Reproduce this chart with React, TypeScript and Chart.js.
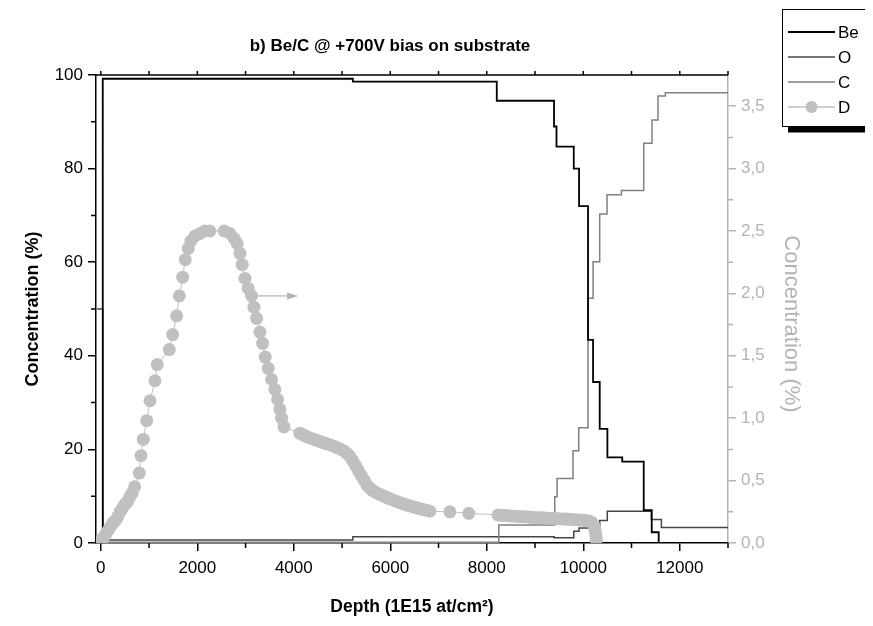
import React, { useEffect, useRef } from 'react';
import { Chart, registerables } from 'chart.js';

Chart.register(...registerables);

const TITLE = 'b) Be/C @ +700V bias on substrate';
const X_TITLE = 'Depth (1E15 at/cm²)';
const Y_TITLE = 'Concentration (%)';
const Y2_TITLE = 'Concentration (%)';

const X_TICKS = [0, 2000, 4000, 6000, 8000, 10000, 12000];
const X_MINOR = [1000, 3000, 5000, 7000, 9000, 11000, 13000];
const Y_TICKS = [0, 20, 40, 60, 80, 100];
const Y_MINOR = [10, 30, 50, 70, 90];
const Y2_TICKS = [0, 0.5, 1, 1.5, 2, 2.5, 3, 3.5];
const Y2_MINOR = [0.25, 0.75, 1.25, 1.75, 2.25, 2.75, 3.25];

const SERIES = ['Be', 'O', 'C', 'D'];

// Step profiles: depth where each level starts, and that level (%)
const BE_DEPTH = [0, 40, 5224, 8207, 9394, 9445, 9803, 9913, 10099, 10203, 10341, 10500, 10808, 11253, 11419, 11563, 13000];
const BE_CONC = [0, 99.2, 98.6, 94.5, 89, 84.7, 80, 72, 43.4, 34.4, 24.4, 18.3, 17.4, 7.0, 2.3, 0, 0];

const O_DEPTH = [-80, 40, 5224, 9395, 9803, 9913, 10341, 10498, 11412, 11620, 13000];
const O_CONC = [50, 0.65, 1.35, 1.1, 2.5, 3.2, 4.8, 6.8, 5.0, 3.3, 3.3];

const C_DEPTH = [40, 8249, 9409, 9457, 9788, 9906, 10099, 10203, 10341, 10493, 10791, 11253, 11425, 11549, 11702, 13000];
const C_CONC = [0.15, 3.85, 9.9, 13.8, 19.7, 24.6, 52.3, 60.1, 70.3, 74.4, 75.3, 85.4, 90.4, 95.5, 96.2, 96.2];

// Deuterium (right axis)
const D_DEPTH = [
  0, 50, 100, 150, 200, 250, 300, 350, 400, 450, 500, 550, 600, 650, 700,
  797, 832, 880, 950, 1019, 1122, 1170, 1419, 1489, 1572, 1626, 1696, 1750, 1812, 1868, 1951, 2055, 2158, 2262,
  2558, 2676, 2765, 2827, 2883, 2931, 2987, 3055, 3126, 3173, 3229, 3298, 3353, 3407, 3470, 3540, 3608, 3664, 3712, 3747, 3795,
  4126, 4200, 4270, 4340, 4410, 4480, 4550, 4620, 4690, 4760, 4830, 4900, 4970, 5040, 5100, 5160, 5220, 5280, 5340, 5400,
  5460, 5520, 5580, 5640, 5700, 5770, 5840, 5910, 5980, 6050, 6120, 6190, 6260, 6330, 6400, 6470, 6540, 6610, 6680, 6750, 6819,
  7234, 7627,
  8234, 8300, 8370, 8440, 8510, 8580, 8650, 8720, 8790, 8860, 8930, 9000, 9070, 9140, 9210, 9280, 9350, 9420, 9490, 9560,
  9630, 9700, 9770, 9840, 9910, 9980, 10050, 10120, 10180, 10220, 10240, 10255, 10265, 10270,
];
const D_CONC = [
  0.02, 0.04, 0.07, 0.10, 0.13, 0.16, 0.18, 0.21, 0.25, 0.28, 0.31, 0.33, 0.37, 0.40, 0.45,
  0.56, 0.70, 0.83, 0.98, 1.14, 1.30, 1.43, 1.55, 1.67, 1.82, 1.98, 2.13, 2.27, 2.36, 2.42, 2.46, 2.48, 2.50, 2.50,
  2.50, 2.48, 2.44, 2.40, 2.32, 2.23, 2.12, 2.04, 1.98, 1.89, 1.80, 1.69, 1.60, 1.49, 1.40, 1.31, 1.23, 1.15, 1.07, 1.00, 0.93,
  0.88, 0.865, 0.852, 0.842, 0.832, 0.822, 0.812, 0.803, 0.795, 0.786, 0.775, 0.764, 0.752, 0.737, 0.718, 0.695, 0.66, 0.62, 0.578, 0.54,
  0.502, 0.462, 0.438, 0.42, 0.405, 0.392, 0.38, 0.368, 0.356, 0.345, 0.335, 0.325, 0.315, 0.306, 0.298, 0.29, 0.282, 0.275, 0.268, 0.262, 0.255,
  0.25, 0.238,
  0.225, 0.223, 0.221, 0.219, 0.217, 0.215, 0.213, 0.211, 0.21, 0.208, 0.206, 0.205, 0.203, 0.202, 0.2, 0.199, 0.197, 0.196, 0.195, 0.193,
  0.192, 0.19, 0.189, 0.187, 0.185, 0.183, 0.18, 0.176, 0.165, 0.14, 0.11, 0.08, 0.05, 0.025,
];

// arrow pointing from the D curve to the right axis (depth range, left-axis level)
const ARROW_DEPTH = [3260, 4090];
const ARROW_LEVEL = 52.8;

const FONT = '"Liberation Sans", Arial, Helvetica, sans-serif';
const COLORS = ['#000000', '#454545', '#808080', '#c0c0c0'];
const RIGHT_GREY = '#b4b4b4';

const pts = (xs: number[], ys: number[]) => xs.map((x, i) => ({ x, y: ys[i] }));

const decor = {
  id: 'decor',
  afterDraw(chart: any) {
    const { ctx, chartArea: ca, scales } = chart;
    const xs = scales.x, ys = scales.y, y2 = scales.y2;
    ctx.save();
    ctx.lineWidth = 1.5;
    ctx.strokeStyle = '#000';
    // top axis
    ctx.beginPath();
    ctx.moveTo(ca.left, ca.top);
    ctx.lineTo(ca.right, ca.top);
    for (const v of [...X_TICKS, ...X_MINOR]) {
      const px = xs.getPixelForValue(v);
      ctx.moveTo(px, ca.top);
      ctx.lineTo(px, ca.top - 4);
    }
    // minor ticks bottom & left
    for (const v of X_MINOR) {
      const px = xs.getPixelForValue(v);
      ctx.moveTo(px, ca.bottom);
      ctx.lineTo(px, ca.bottom + 5);
    }
    for (const v of Y_MINOR) {
      const py = ys.getPixelForValue(v);
      ctx.moveTo(ca.left, py);
      ctx.lineTo(ca.left - 5, py);
    }
    ctx.stroke();
    // right minor ticks
    ctx.strokeStyle = RIGHT_GREY;
    ctx.beginPath();
    for (const v of Y2_MINOR) {
      const py = y2.getPixelForValue(v);
      ctx.moveTo(ca.right, py);
      ctx.lineTo(ca.right + 5, py);
    }
    ctx.stroke();

    // right axis title
    ctx.save();
    ctx.translate(ca.right + 63, (ca.top + ca.bottom) / 2 + 15);
    ctx.rotate(Math.PI / 2);
    ctx.fillStyle = RIGHT_GREY;
    ctx.font = `22px ${FONT}`;
    ctx.textAlign = 'center';
    ctx.textBaseline = 'middle';
    ctx.fillText(Y2_TITLE, 0, 0);
    ctx.restore();

    // arrow
    const ax0 = xs.getPixelForValue(ARROW_DEPTH[0]);
    const ax1 = xs.getPixelForValue(ARROW_DEPTH[1]);
    const ay = ys.getPixelForValue(ARROW_LEVEL);
    ctx.strokeStyle = RIGHT_GREY;
    ctx.fillStyle = RIGHT_GREY;
    ctx.lineWidth = 1.2;
    ctx.beginPath();
    ctx.moveTo(ax0, ay);
    ctx.lineTo(ax1 - 8, ay);
    ctx.stroke();
    ctx.beginPath();
    ctx.moveTo(ax1, ay);
    ctx.lineTo(ax1 - 11, ay - 3.5);
    ctx.lineTo(ax1 - 11, ay + 3.5);
    ctx.closePath();
    ctx.fill();

    // title
    ctx.fillStyle = '#000';
    ctx.font = `bold 17px ${FONT}`;
    ctx.textAlign = 'center';
    ctx.textBaseline = 'alphabetic';
    ctx.fillText(TITLE, 390, 51);

    // legend box
    const bx = 782, by = 9.5, bw = 120, bh = 117;
    ctx.fillStyle = '#000';
    ctx.fillRect(bx + 6, by + bh, bw, 6);
    ctx.fillStyle = '#fff';
    ctx.fillRect(bx, by, bw, bh);
    ctx.strokeStyle = '#000';
    ctx.lineWidth = 1;
    ctx.strokeRect(bx + 0.5, by, bw, bh);
    ctx.font = `17px ${FONT}`;
    ctx.textAlign = 'left';
    ctx.textBaseline = 'middle';
    SERIES.forEach((name, i) => {
      const ry = 32 + i * 25;
      ctx.strokeStyle = COLORS[i];
      ctx.lineWidth = i === 0 ? 1.8 : 1.5;
      ctx.beginPath();
      ctx.moveTo(788, ry);
      ctx.lineTo(835, ry);
      ctx.stroke();
      if (name === 'D') {
        ctx.fillStyle = COLORS[i];
        ctx.beginPath();
        ctx.arc(811.5, ry, 6, 0, Math.PI * 2);
        ctx.fill();
      }
      ctx.fillStyle = '#000';
      ctx.fillText(name, 838, ry + 1);
    });
    ctx.restore();
  },
};

export default function App() {
  const ref = useRef<HTMLCanvasElement>(null);
  useEffect(() => {
    const tickFont = { family: FONT, size: 17 };
    const chart = new Chart(ref.current as HTMLCanvasElement, {
      type: 'scatter',
      data: {
        datasets: [
          { label: SERIES[0], data: pts(BE_DEPTH, BE_CONC), showLine: true, stepped: 'before', borderColor: COLORS[0], borderWidth: 1.8, pointRadius: 0, yAxisID: 'y', order: 1 },
          { label: SERIES[1], data: pts(O_DEPTH, O_CONC), showLine: true, stepped: 'before', borderColor: COLORS[1], borderWidth: 1.5, pointRadius: 0, yAxisID: 'y', order: 3 },
          { label: SERIES[2], data: pts(C_DEPTH, C_CONC), showLine: true, stepped: 'before', borderColor: COLORS[2], borderWidth: 1.5, pointRadius: 0, yAxisID: 'y', order: 2 },
          { label: SERIES[3], data: pts(D_DEPTH, D_CONC), showLine: true, borderColor: COLORS[3], borderWidth: 1, pointRadius: 6.5, pointBorderWidth: 0, pointBackgroundColor: COLORS[3], backgroundColor: COLORS[3], yAxisID: 'y2', order: 0 },
        ],
      } as any,
      options: {
        responsive: false,
        animation: false,
        devicePixelRatio: 1,
        events: [],
        layout: { padding: { top: 75, left: 0, right: 0, bottom: 0 } },
        plugins: { legend: { display: false }, title: { display: false }, tooltip: { enabled: false } },
        scales: {
          x: {
            type: 'linear',
            position: 'bottom',
            min: -100,
            max: 13000,
            afterBuildTicks: (s: any) => { s.ticks = X_TICKS.map((v) => ({ value: v })); },
            afterFit: (s: any) => { s.height = 83; },
            ticks: { font: tickFont, color: '#000', padding: 7, maxRotation: 0, autoSkip: false, callback: (v: any) => String(v) },
            grid: { display: true, drawOnChartArea: false, drawTicks: true, tickLength: 8, color: '#000', lineWidth: 1.5 },
            border: { display: true, color: '#000', width: 1.5 },
            title: { display: true, text: X_TITLE, color: '#000', font: { family: FONT, size: 17.5, weight: 'bold' }, padding: { top: 0, bottom: 8 } },
          },
          y: {
            type: 'linear',
            position: 'left',
            min: 0,
            max: 100,
            afterBuildTicks: (s: any) => { s.ticks = Y_TICKS.map((v) => ({ value: v })); },
            afterFit: (s: any) => { s.width = 96; },
            ticks: { font: tickFont, color: '#000', padding: 5, callback: (v: any) => String(v) },
            grid: { display: true, drawOnChartArea: false, drawTicks: true, tickLength: 8, color: '#000', lineWidth: 1.5 },
            border: { display: true, color: '#000', width: 1.5 },
            title: { display: true, text: Y_TITLE, color: '#000', font: { family: FONT, size: 18, weight: 'bold' }, padding: { top: 22, bottom: 0 } },
          },
          y2: {
            type: 'linear',
            position: 'right',
            min: 0,
            max: 3.75,
            afterBuildTicks: (s: any) => { s.ticks = Y2_TICKS.map((v) => ({ value: v })); },
            afterFit: (s: any) => { s.width = 145; },
            ticks: { font: tickFont, color: RIGHT_GREY, padding: 5, callback: (v: any) => Number(v).toFixed(1).replace('.', ',') },
            grid: { display: true, drawOnChartArea: false, drawTicks: true, tickLength: 8, color: RIGHT_GREY, lineWidth: 1.5 },
            border: { display: true, color: RIGHT_GREY, width: 1.5 },
            title: { display: false },
          },
        },
      } as any,
      plugins: [decor],
    });
    return () => chart.destroy();
  }, []);
  return (
    <div style={{ margin: '-8px', width: 873, height: 626, background: '#fff' }}>
      <canvas ref={ref} width={873} height={626} style={{ display: 'block', width: 873, height: 626 }} />
    </div>
  );
}
